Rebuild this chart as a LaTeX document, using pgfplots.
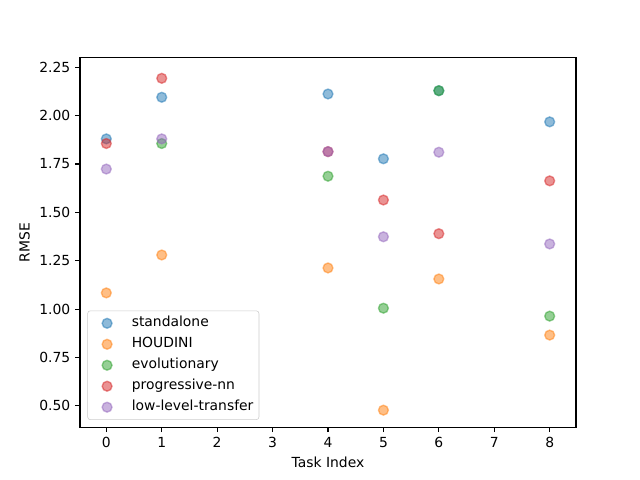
\documentclass[border=0pt]{standalone}
\usepackage{pgfplots}
\pgfplotsset{compat=1.18}
\usepackage{fontspec}
\setmainfont{DejaVu Sans}
\definecolor{c0}{HTML}{1F77B4}
\definecolor{c1}{HTML}{FF7F0E}
\definecolor{c2}{HTML}{2CA02C}
\definecolor{c3}{HTML}{D62728}
\definecolor{c4}{HTML}{9467BD}
\begin{document}
\begin{tikzpicture}
\useasboundingbox (-57.6pt,-38.02pt) rectangle (403.2pt,307.58pt);
\begin{axis}[
  at={(0,0)}, anchor=south west,
  scale only axis, width=357.12pt, height=266.11pt,
  xmin=-0.475, xmax=8.475, ymin=0.39, ymax=2.30,
  xtick={0,1,2,3,4,5,6,7,8},
  ytick={0.5,0.75,1.0,1.25,1.5,1.75,2.0,2.25},
  yticklabel style={/pgf/number format/fixed,/pgf/number format/fixed zerofill,/pgf/number format/precision=2},
  /pgf/number format/assume math mode=true,
  tick align=outside, tick pos=left,
  major tick length=3.5pt,
  every tick/.style={line width=0.8pt, black},
  axis line style={line width=0.8pt},
  font=\fontsize{10pt}{12pt}\selectfont,
  xlabel={Task Index}, ylabel={RMSE},
  legend cell align=left,
  legend style={at={(0,0)}, anchor=south west, xshift=5.3pt, yshift=5.2pt,
    draw=black!20, fill=white, fill opacity=0.8, text opacity=1, rounded corners=2pt,
    inner xsep=2pt, inner ysep=2pt, row sep=1.1pt,
    nodes={inner sep=2pt, text height=7.5pt, text depth=2.5pt},
    font=\fontsize{10pt}{12pt}\selectfont},
  legend image code/.code={\path[draw=none,fill=none] (0pt,-3pt) rectangle (27.8pt,3pt); \draw[#1] plot coordinates {(12pt,0pt)};},
  every axis plot/.append style={only marks, mark=*, mark size=3.54pt, line width=1pt, draw opacity=0.5, fill opacity=0.5},
]
\addplot[c0, fill=c0] coordinates {(0,1.880) (1,2.095) (4,2.112) (5,1.777) (6,2.129) (8,1.968)};
\addlegendentry{standalone}
\addplot[c1, fill=c1] coordinates {(0,1.084) (1,1.280) (4,1.213) (5,0.478) (6,1.156) (8,0.866)};
\addlegendentry{HOUDINI}
\addplot[c2, fill=c2] coordinates {(1,1.856) (4,1.687) (5,1.005) (6,2.129) (8,0.964)};
\addlegendentry{evolutionary}
\addplot[c3, fill=c3] coordinates {(0,1.856) (1,2.193) (4,1.814) (5,1.564) (6,1.390) (8,1.663)};
\addlegendentry{progressive-nn}
\addplot[c4, fill=c4] coordinates {(0,1.724) (1,1.880) (4,1.814) (5,1.374) (6,1.811) (8,1.337)};
\addlegendentry{low-level-transfer}
\end{axis}
\end{tikzpicture}
\end{document}
